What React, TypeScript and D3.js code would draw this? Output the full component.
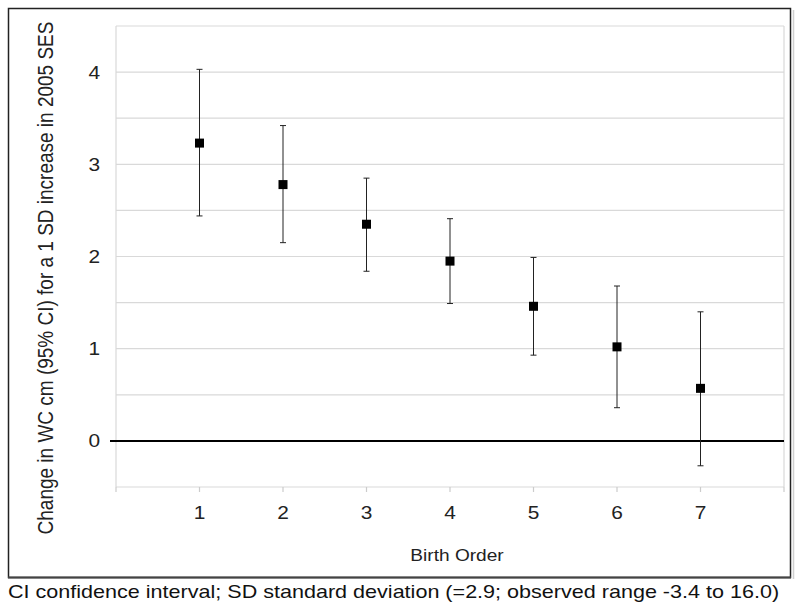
import React from "react";
import * as d3 from "d3";

const birthOrder = [1, 2, 3, 4, 5, 6, 7];
const estimate = [3.23, 2.78, 2.35, 1.95, 1.46, 1.02, 0.57];
const upper = [4.03, 3.42, 2.85, 2.41, 1.99, 1.68, 1.40];
const lower = [2.44, 2.15, 1.84, 1.49, 0.93, 0.36, -0.27];
const yTicks = [0, 1, 2, 3, 4];
const yGrid = [-0.5, 0, 0.5, 1, 1.5, 2, 2.5, 3, 3.5, 4, 4.5];
const xTicks = [0, 1, 2, 3, 4, 5, 6, 7, 8];

const W = 800;
const H = 611;
const FONT = "Liberation Sans, Arial, Helvetica, sans-serif";
const SX = 1.16;

export default function App() {
  const x = d3.scaleLinear().domain([0, 8]).range([116, 784]);
  const y = d3.scaleLinear().domain([-0.5, 4.5]).range([487, 26]);
  const cap = 3;
  const sq = 9;
  return (
    <svg
      width={W}
      height={H}
      style={{ position: "absolute", left: 0, top: 0, background: "#fff" }}
      fontFamily={FONT}
    >
      <rect x={0} y={0} width={W} height={H} fill="#fff" />
      <line x1={793.5} y1={10} x2={793.5} y2={579} stroke="#d0d0d0" strokeWidth={1.5} />
      <rect x={8.5} y={8.5} width={782} height={569} fill="none" stroke="#222" strokeWidth={1.5} />
      <line x1={8} y1={577.5} x2={791} y2={577.5} stroke="#444" strokeWidth={2} />
      {yGrid.map((v) => (
        <line key={v} x1={x(0)} x2={x(8)} y1={y(v)} y2={y(v)} stroke="#d9d9d9" strokeWidth={1.2} />
      ))}
      <line x1={x(0)} x2={x(0)} y1={y(4.5)} y2={y(-0.5)} stroke="#d9d9d9" strokeWidth={1.2} />
      <line x1={x(8)} x2={x(8)} y1={y(4.5)} y2={y(-0.5)} stroke="#d9d9d9" strokeWidth={1.2} />
      {xTicks.map((v) => (
        <line key={v} x1={x(v)} x2={x(v)} y1={y(-0.5)} y2={y(-0.5) + 5} stroke="#cccccc" strokeWidth={1.2} />
      ))}
      <line x1={x(0) - 6} x2={x(8)} y1={y(0)} y2={y(0)} stroke="#000" strokeWidth={2} />
      {yTicks.map((v) => (
        <text
          key={v}
          transform={`translate(100, ${y(v)}) scale(${SX},1)`}
          dy="0.36em"
          textAnchor="end"
          fontSize={18}
          fill="#222"
        >
          {v}
        </text>
      ))}
      {birthOrder.map((v) => (
        <text
          key={v}
          transform={`translate(${x(v)}, 519) scale(${SX},1)`}
          textAnchor="middle"
          fontSize={18}
          fill="#222"
        >
          {v}
        </text>
      ))}
      {birthOrder.map((v, i) => (
        <g key={v} stroke="#222" strokeWidth={1}>
          <line x1={x(v)} x2={x(v)} y1={y(upper[i])} y2={y(lower[i])} />
          <line x1={x(v) - cap} x2={x(v) + cap} y1={y(upper[i])} y2={y(upper[i])} />
          <line x1={x(v) - cap} x2={x(v) + cap} y1={y(lower[i])} y2={y(lower[i])} />
        </g>
      ))}
      {birthOrder.map((v, i) => (
        <rect key={v} x={x(v) - sq / 2} y={y(estimate[i]) - sq / 2} width={sq} height={sq} fill="#000" />
      ))}
      <text
        transform={`translate(53, 278) rotate(-90) scale(1, ${SX})`}
        textAnchor="middle"
        fontSize={19}
        fill="#222"
      >
        Change in WC cm (95% CI) for a 1 SD increase in 2005 SES
      </text>
      <text
        transform={`translate(457, 561) scale(1.11,1)`}
        textAnchor="middle"
        fontSize={17.2}
        fill="#222"
      >
        Birth Order
      </text>
      <text transform={`translate(8, 598) scale(${SX},1)`} fontSize={18.6} fill="#111">
        CI confidence interval; SD standard deviation (=2.9; observed range -3.4 to 16.0)
      </text>
    </svg>
  );
}
